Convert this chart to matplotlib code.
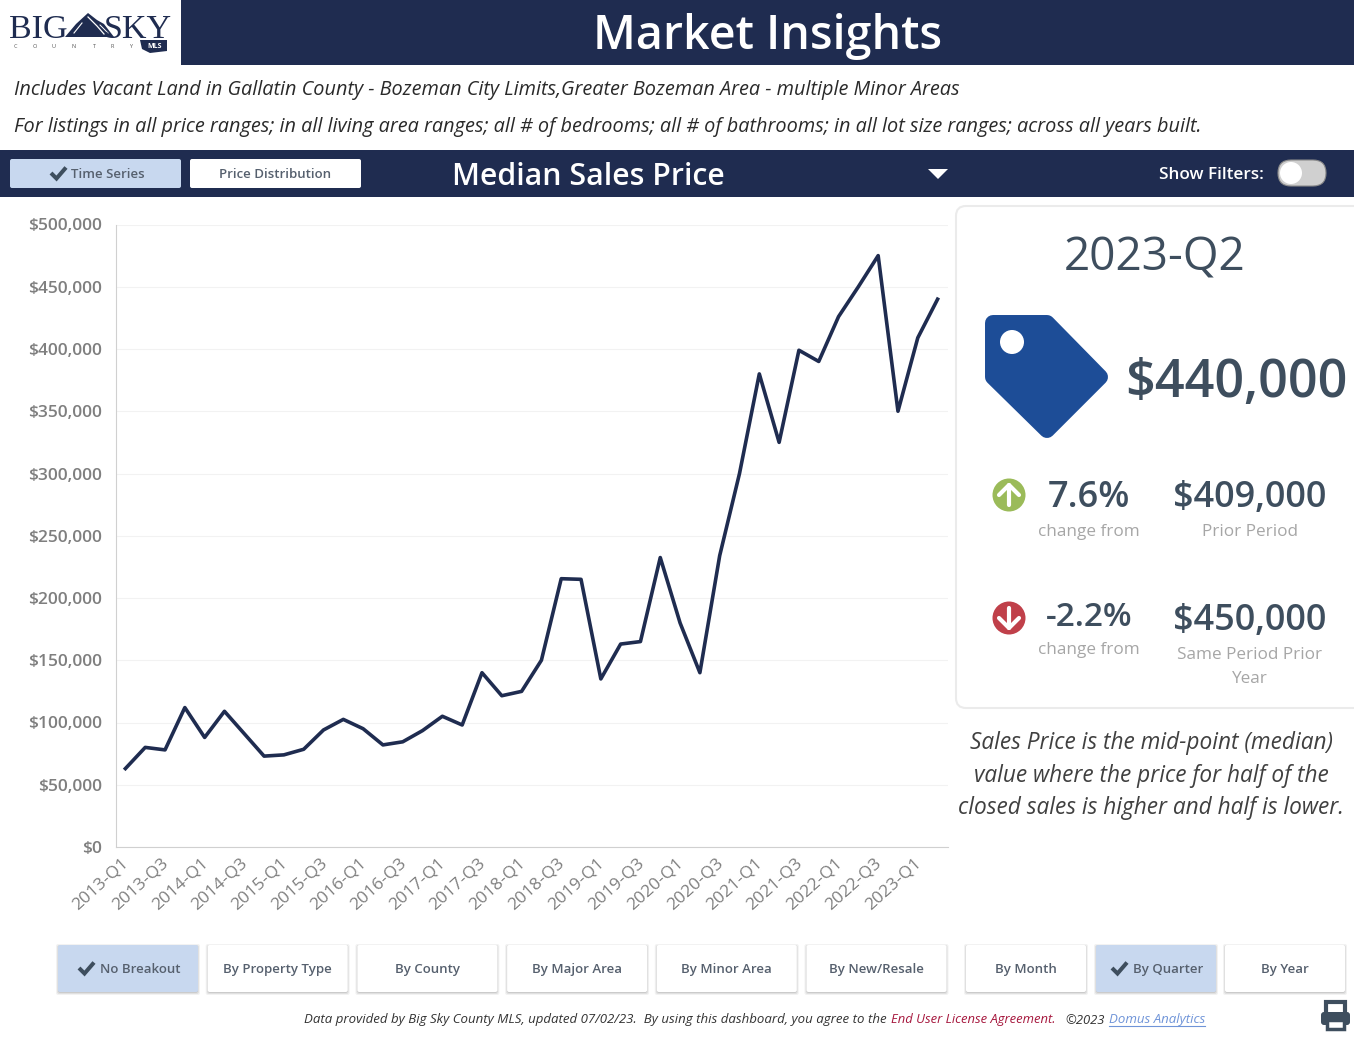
import matplotlib
matplotlib.use("Agg")
import matplotlib.pyplot as plt
from matplotlib.patches import Rectangle, FancyBboxPatch, Polygon, Circle
from matplotlib.transforms import ScaledTranslation

plt.rcParams['font.family'] = ['Open Sans', 'DejaVu Sans']

# Median sales price per quarter
quarters = [f"{y}-Q{q}" for y in range(2013, 2024) for q in range(1, 5)][:42]
prices = [63000, 80000, 78000, 112000, 88000, 109000, 91000, 73000, 74000, 78500,
          94000, 102500, 95000, 82000, 84500, 93500, 105000, 98000, 140000, 121500,
          125000, 150000, 215500, 215000, 135000, 163000, 165000, 232500, 180000, 140000,
          234000, 300000, 380000, 325000, 399000, 390000, 426000, 450000, 475000, 350000,
          409000, 440000]
y_ticks = [0, 50000, 100000, 150000, 200000, 250000, 300000, 350000, 400000, 450000, 500000]

breakout_labels = ["No Breakout", "By Property Type", "By County", "By Major Area",
                   "By Minor Area", "By New/Resale"]
period_labels = ["By Month", "By Quarter", "By Year"]

NAVY = "#1f2c50"
SLATE = "#3e4e5e"
SELECTED = "#c8d8ef"
W, H = 1354, 1039

fig = plt.figure(figsize=(W / 100, H / 100), dpi=100, facecolor="white")

# Overlay in pixel coordinates for the dashboard furniture
bg = fig.add_axes([0, 0, 1, 1])
bg.set_xlim(0, W)
bg.set_ylim(H, 0)
bg.axis("off")


def button(x, y, w, h, label, selected=False, shadow=False, size=9.5, tx=None):
    if shadow:
        for off, a in [(3, 0.05), (2, 0.07), (1, 0.09)]:
            bg.add_patch(FancyBboxPatch((x - off + 1, y - off + 2), w + 2 * off - 2, h + 2 * off - 2,
                                        boxstyle="round,pad=0,rounding_size=2", fc="black", ec="none", alpha=a))
    bg.add_patch(FancyBboxPatch((x, y), w, h, boxstyle="round,pad=0,rounding_size=2",
                                fc=SELECTED if selected else "white", ec="none", zorder=2))
    cx = x + w / 2 if tx is None else tx
    bg.text(cx, y + h / 2 + 1, label, ha="center", va="center", fontsize=size, fontweight=600,
            color="#56606e", zorder=3)


def check(x, y):
    bg.plot([x, x + 5.5, x + 15], [y, y + 5.5, y - 5.5], color=SLATE, lw=2.9,
            solid_capstyle="butt", solid_joinstyle="miter", zorder=4)


def round_arrow(y, color, up):
    # filled circle with a white stem and chevron
    sign = -1 if up else 1
    bg.add_patch(Circle((1009, y), 16.5, fc=color, ec="none"))
    tip = y + sign * 10
    bg.plot([1009, 1009], [y - sign * 10, tip], color="white", lw=3, solid_capstyle="round")
    bg.plot([999, 1009, 1019], [tip - sign * 10, tip, tip - sign * 10], color="white", lw=3,
            solid_capstyle="round", solid_joinstyle="round")


# Header band and logo
bg.add_patch(Rectangle((181, 0), W - 181, 64.5, fc=NAVY, ec="none"))
bg.text(768, 36, "Market Insights", ha="center", va="center", fontsize=33.5, fontweight=600, color="white")
bg.text(9, 30, "BIG", ha="left", va="center", fontsize=24.5, family="Liberation Serif", color=NAVY)
bg.text(172, 30, "SKY", ha="right", va="center", fontsize=24.5, family="Liberation Serif", color=NAVY)
bg.add_patch(Polygon([(65, 37), (76, 24), (88, 13), (97, 20), (104, 24), (114, 37)], fc=NAVY, ec="none"))
bg.plot([74, 82], [33, 23], color="white", lw=0.8)
bg.plot([88, 97, 104], [17, 26, 34], color="white", lw=0.9)
bg.plot([100, 108], [25, 33], color="white", lw=0.7)
for xc, letter in zip([15, 35, 53, 74, 94, 112, 131], "COUNTRY"):
    bg.text(xc, 46, letter, ha="center", va="center", fontsize=4, color="#555555")
bg.add_patch(Polygon([(140, 40), (167, 40), (167, 51), (150, 53), (142, 49)], fc=NAVY, ec="none"))
bg.text(155, 46.5, "MLS", ha="center", va="center", fontsize=5, fontweight="bold", color="white")

# Description lines
bg.text(14, 90, "Includes Vacant Land in Gallatin County - Bozeman City Limits,Greater Bozeman Area - multiple Minor Areas",
        ha="left", va="center", fontsize=14.3, style="italic", color="#2a2a2a")
bg.text(14, 127, "For listings in all price ranges; in all living area ranges; all # of bedrooms; all # of bathrooms; in all lot size ranges; across all years built.",
        ha="left", va="center", fontsize=14.3, style="italic", color="#2a2a2a")

# Control band
bg.add_patch(Rectangle((0, 150), W, 47, fc=NAVY, ec="none"))
button(10, 159, 171, 29, "Time Series", selected=True, tx=107.5)
check(51, 173)
button(190, 159, 171, 29, "Price Distribution")
bg.text(452, 177, "Median Sales Price", ha="left", va="center", fontsize=21.8, fontweight=600, color="white")
bg.add_patch(Polygon([(928, 169), (948, 169), (938, 179)], fc="white", ec="none"))
bg.text(1264, 175, "Show Filters:", ha="right", va="center", fontsize=12.3, fontweight=600, color="white")
bg.add_patch(FancyBboxPatch((1278, 160), 48, 26, boxstyle="round,pad=0,rounding_size=13", fc="#d0d0d0", ec="#8a8a8a", lw=0.8))
bg.add_patch(Circle((1291, 173), 11, fc="white", ec="none"))

# KPI card
bg.add_patch(FancyBboxPatch((956, 206), 420, 502, boxstyle="round,pad=0,rounding_size=10", fc="white", ec="#ebebeb", lw=1.5))
bg.text(1155, 258, "2023-Q2", ha="center", va="center", fontsize=33, color=SLATE)

# Price tag icon, thick round-joined outline gives the soft corners
bg.add_patch(Polygon([(993, 323), (1047, 323), (1100, 377), (1047, 430), (993, 377)],
                     fc="#1d4d97", ec="#1d4d97", lw=11.5, joinstyle="round"))
bg.add_patch(Circle((1012, 342), 12, fc="white", ec="none", zorder=3))
bg.text(1236, 383, "$440,000", ha="center", va="center", fontsize=37.6, fontweight=600, color=SLATE)

# Change rows
round_arrow(495, "#9bbb59", True)
round_arrow(618, "#c0404a", False)
bg.text(1089, 498, "7.6%", ha="center", va="center", fontsize=26, fontweight=600, color=SLATE)
bg.text(1250, 498, "$409,000", ha="center", va="center", fontsize=26, fontweight=600, color=SLATE)
bg.text(1089, 532, "change from", ha="center", va="center", fontsize=12.3, color="#a6a6a6")
bg.text(1250, 532, "Prior Period", ha="center", va="center", fontsize=12.3, color="#a6a6a6")
bg.text(1089, 618, "-2.2%", ha="center", va="center", fontsize=24, fontweight=600, color=SLATE)
bg.text(1250, 621, "$450,000", ha="center", va="center", fontsize=26, fontweight=600, color=SLATE)
bg.text(1089, 650, "change from", ha="center", va="center", fontsize=12.3, color="#a6a6a6")
bg.text(1250, 655, "Same Period Prior", ha="center", va="center", fontsize=12.3, color="#a6a6a6")
bg.text(1250, 679, "Year", ha="center", va="center", fontsize=12.3, color="#a6a6a6")

# Explanatory note
for yy, line in [(743, "Sales Price is the mid-point (median)"),
                 (776, "value where the price for half of the"),
                 (808, "closed sales is higher and half is lower.")]:
    bg.text(1151, yy, line, ha="center", va="center", fontsize=16.3, style="italic", color="#404040")

# Bottom buttons
for i, label in enumerate(breakout_labels):
    x = 58 + i * 149.7
    sel = label == "No Breakout"
    button(x, 945, 140, 47, label, selected=sel, shadow=True, tx=x + 82.5 if sel else None)
check(79, 968)
for x, label in zip([966, 1096, 1225], period_labels):
    sel = label == "By Quarter"
    button(x, 945, 120, 47, label, selected=sel, shadow=True, tx=1168 if sel else None)
check(1112, 968)

# Footer
y_f = 1020
bg.text(304, y_f, "Data provided by Big Sky County MLS, updated 07/02/23.  By using this dashboard, you agree to the",
        ha="left", va="center", fontsize=9.55, style="italic", color="#333333")
bg.text(891, y_f, "End User License Agreement.", ha="left", va="center", fontsize=9.4, style="italic", color="#a6173d")
bg.text(1065, y_f, "©2023", ha="left", va="center", fontsize=9.4, style="italic", color="#333333")
bg.text(1109, y_f, "Domus Analytics", ha="left", va="center", fontsize=9.5, style="italic", color="#6f94d8")
bg.plot([1109, 1205], [1026, 1026], color="#6f94d8", lw=0.8)

# Printer icon
bg.add_patch(Rectangle((1326, 1002), 19, 14, fc="white", ec=SLATE, lw=3))
bg.add_patch(FancyBboxPatch((1321, 1012), 29, 13, boxstyle="round,pad=0,rounding_size=3", fc=SLATE, ec="none", zorder=3))
bg.add_patch(Rectangle((1327, 1020), 17, 9, fc="white", ec=SLATE, lw=2.5, zorder=4))

# Line chart
ax = fig.add_axes([115.5 / W, 1 - 847 / H, (947.5 - 115.5) / W, (847 - 224.5) / H], facecolor="none")
ax.plot(range(len(prices)), prices, color=NAVY, lw=2.6, solid_joinstyle="round")
ax.set_xlim(-0.5, 41.5)
ax.set_ylim(0, 500000)
ax.set_yticks(y_ticks)
ax.set_yticklabels([f"${v:,}" for v in y_ticks], fontsize=12.5, fontweight=600, color="#7f7f7f")
ax.set_xticks(range(0, len(quarters), 2))
ax.set_xticklabels(quarters[::2], fontsize=12.5, fontweight=500, color="#7f7f7f",
                   rotation=42, ha="right", rotation_mode="anchor")
ax.grid(axis="y", color="#f2f2f2", lw=0.8)
ax.set_axisbelow(True)
ax.tick_params(length=0, pad=10)
ax.tick_params(axis="x", pad=6)
shift = ScaledTranslation(-3 / 72, 0, fig.dpi_scale_trans)
for lab in ax.get_xticklabels():
    lab.set_transform(lab.get_transform() + shift)
for side in ["top", "right"]:
    ax.spines[side].set_visible(False)
for side in ["left", "bottom"]:
    ax.spines[side].set_color("#d0d0d0")

fig.savefig("out.png", dpi=100)
